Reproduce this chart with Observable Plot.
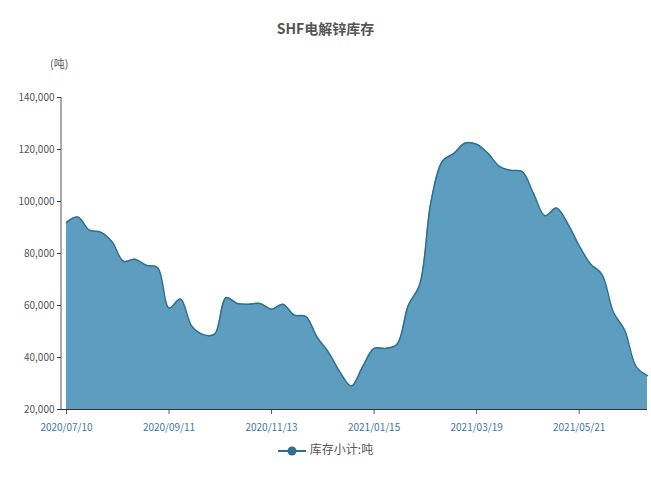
<!DOCTYPE html>
<html><head><meta charset="utf-8">
<script src="https://cdn.jsdelivr.net/npm/d3@7"></script>
<script src="https://cdn.jsdelivr.net/npm/@observablehq/plot@0.6"></script>
<style>
html,body{margin:0;padding:0;background:#fff;}
#wrap{position:relative;width:651px;height:483px;font-family:"Noto Sans CJK SC","Noto Sans",sans-serif;}
#title{position:absolute;top:18px;left:0;width:651px;text-align:center;font-size:14px;font-weight:bold;color:#555;}
#unit{position:absolute;top:55px;left:50px;font-size:11px;color:#555;}
#chart{position:absolute;top:0;left:0;}
#legend{position:absolute;top:440px;left:0;width:651px;text-align:center;font-size:12px;color:#555;}
#legend svg{vertical-align:middle;margin-right:4px;}
</style></head>
<body><div id="wrap">
<div id="chart"></div>
<div id="title">SHF电解锌库存</div>
<div id="unit">(吨)</div>
<div id="legend"></div>
</div>
<script>
const startDate = "2020/07/10";
const seriesName = "库存小计:吨";
const values = [92000,94000,89000,88200,84500,77000,77800,75500,74500,59000,
62500,52000,48800,49000,63000,60800,60500,60800,58600,60500,
56300,55800,47800,42000,34500,29000,36500,43500,43500,45000,
60000,68000,100000,115500,118500,122500,122000,118500,113500,112000,
111500,103000,94500,97500,91500,83000,76000,72000,57500,50500,
36500,33000];
const xTickLabels = ["2020/07/10","2020/09/11","2020/11/13","2021/01/15","2021/03/19","2021/05/21"];
const yTicks = [20000,40000,60000,80000,100000,120000,140000];

const parse = d3.utcParse("%Y/%m/%d");
const t0 = parse(startDate);
const data = values.map((v,i)=>({date:d3.utcDay.offset(t0,7*i), value:v}));
const xTicks = xTickLabels.map(parse);

const fillC = "#5d9dbf", strokeC = "#2f6f8f";
const chart = Plot.plot({
  width:651, height:440,
  marginLeft:61, marginRight:4, marginTop:97, marginBottom:31,
  insetLeft:5,
  style:{fontFamily:'"Noto Sans CJK SC","Noto Sans",sans-serif', fontSize:"10px", background:"#fff"},
  x:{type:"utc", domain:[data[0].date, data[data.length-1].date]},
  y:{domain:[20000,140000]},
  marks:[
    Plot.areaY(data,{x:"date",y1:20000,y2:"value",fill:fillC,curve:"catmull-rom"}),
    Plot.lineY(data,{x:"date",y:"value",stroke:strokeC,strokeWidth:1.5,curve:"catmull-rom"}),
    Plot.axisY({ticks:yTicks,tickFormat:d3.format(","),tickSize:4,tickPadding:3,label:null,color:"#555",stroke:"#333"}),
    Plot.axisX({ticks:xTicks,tickFormat:d3.utcFormat("%Y/%m/%d"),tickSize:5,tickPadding:9,label:null,color:"#3b78a8",stroke:"#555"}),
    Plot.ruleY([20000],{stroke:"#333",strokeWidth:1})
  ]
});
document.getElementById("chart").appendChild(chart);
// y axis line
const svg = d3.select(chart);
svg.append("line").attr("x1",61).attr("x2",61).attr("y1",97).attr("y2",409).attr("stroke","#555");

const lg = document.getElementById("legend");
lg.innerHTML = `<svg width="28" height="12"><line x1="0" y1="6" x2="28" y2="6" stroke="${strokeC}" stroke-width="2"/><circle cx="14" cy="6" r="4.5" fill="${strokeC}"/></svg>${seriesName}`;
</script>
</body></html>
